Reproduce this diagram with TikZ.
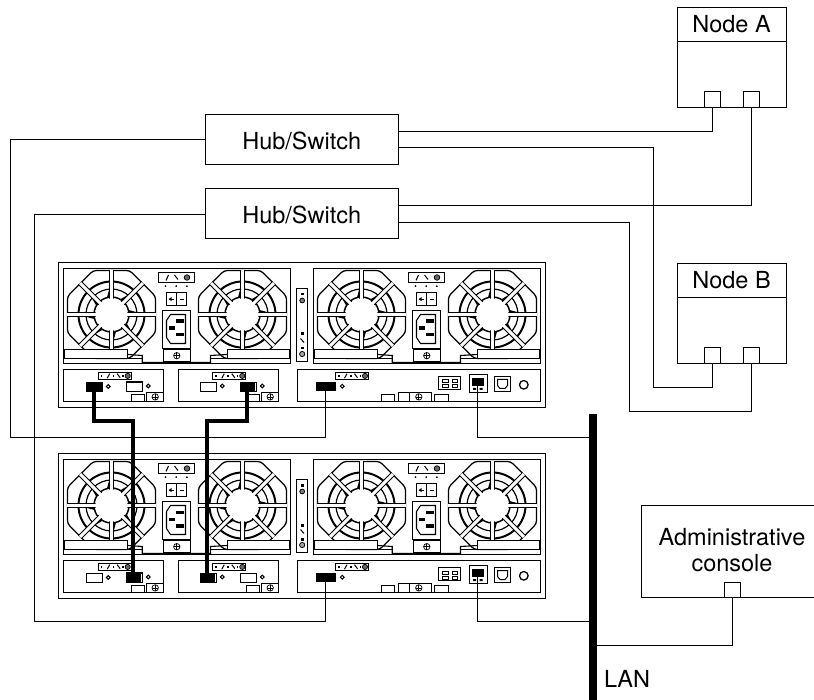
\documentclass[tikz,border=0pt]{standalone}
\usepackage{fontspec}
\setmainfont{TeX Gyre Heros}
\tikzset{
  x=1pt,y=-1pt,
  boxnode/.style={draw=black,line width=1.4pt,fill=white,rectangle,inner sep=0pt,outer sep=0pt},
  labelfont/.style={font=\fontsize{23.5}{26.5}\selectfont,text=black,inner sep=0pt,outer sep=0pt},
  blackport/.style={fill=black,draw=none,rectangle,inner sep=0pt,outer sep=0pt},
  cable/.style={line width=1.4pt,draw=black},
  heavycable/.style={line width=4pt,draw=black},
  detail/.style={line width=1.3pt,draw=black,fill=white},
  screwsym/.pic={
    \draw[line width=.7pt] (0,0) circle[radius=3.2];
    \draw[line width=.7pt] (-3.2,0)--(3.2,0) (0,-3.2)--(0,3.2);
  },
  tinyhole/.pic={\draw[line width=1pt] (0,0) circle[radius=1.9];},
  ctllabel/.pic={
    \draw[detail,line width=1.1pt] (0,0) rectangle (33,7.4);
    \fill (2.5,3) rectangle (4,4.5);
    \draw[line width=1pt] (9,6) -- (11.5,1.5);
    \fill (14.5,3) rectangle (16,4.5);
    \draw[line width=1pt] (19,1.5) -- (22,5.5);
    \fill (24,3) rectangle (25.5,4.5);
    \draw[line width=.7pt,fill=black!60] (29.5,3.7) circle[radius=2.6];
  },
  fanunit/.pic={
    \draw[line width=1.3pt,rounded corners=3pt]
      (22.5:47.6) -- (67.5:47.6) -- (112.5:47.6) -- (157.5:47.6) --
      (202.5:47.6) -- (247.5:47.6) -- (292.5:47.6) -- (337.5:47.6) -- cycle;
    \draw[line width=2pt] (0,0) circle[radius=33];
    \draw[line width=1.2pt] (0,0) circle[radius=25.5];
    \draw[line width=1.5pt] (0,0) circle[radius=17.5];
    \foreach \a in {0,45,...,315}{
      \fill ({\a+29}:17) -- ({\a+39}:24.5) -- ({\a+39}:17) -- cycle;
    }
    \foreach \a in {0,45,90,135}{
      \draw[double=white,double distance=3pt,line width=1.1pt] (\a:44.5) -- ({\a+180}:44.5);
    }
    \fill[white] (0,0) circle[radius=16];
  },
  psuunit/.pic={
    \draw[line width=1.3pt] (5,6) rectangle (232,101);
    \pic at (53,52) {fanunit};
    \pic at (184,52) {fanunit};
    \draw[line width=1.1pt] (69.3,92) -- (83.7,93) -- (83.7,100) -- (152,100) -- (152,93) -- (168.7,92);
    \draw[line width=1.1pt] (69.3,96.3) -- (83.7,96.3) (152,96.3) -- (168.7,96.3);
    \draw[detail,line width=1.1pt] (6,87) rectangle (69.3,96.3);
    \draw[detail,line width=1.1pt] (168.7,87) rectangle (231,96.3);
    \draw[detail] (104.7,87.3) rectangle (132,99);
    \pic at (118.3,93.2) {screwsym};
    \draw[detail] (104.3,48) rectangle (132,86.3);
    \draw[line width=1.1pt] (112,52) -- (127,52) -- (127,81) -- (112,81) -- (108,75) -- (108,58) -- cycle;
    \fill (117.7,57) rectangle (125.3,60.3);
    \fill (110.3,64) rectangle (116.3,67.3);
    \fill (117.7,70.7) rectangle (125.3,74);
    \draw[detail] (107.7,30.3) rectangle (127.7,43);
    \draw[line width=1.1pt] (117.7,30.3) -- (117.7,43);
    \draw[line width=1pt] (110.5,36.6) -- (115,36.6) (121,36.6) -- (125,36.6);
    \fill (110,36.6) -- (113,34.6) -- (113,38.6) -- cycle;
    \fill (107,23.7) circle[radius=1] (117.7,23.7) circle[radius=1] (128.3,23.7) circle[radius=1];
    \draw[detail] (99.7,10.3) rectangle (136,19.7);
    \draw[line width=1.1pt] (107.5,18) -- (110,12.5);
    \draw[line width=1pt] (116,12.5) -- (119.5,17);
    \draw[line width=.7pt,fill=black!60] (128.5,15) circle[radius=2.8];
  },
  chassisunit/.pic={
    \draw[line width=1.4pt,fill=white] (0,0) rectangle (487,145);
    \pic at (0,0) {psuunit};
    \pic at (250,0) {psuunit};
    \draw[line width=1.3pt] (238,26) rectangle (249,99);
    \fill (242.5,30.5) rectangle (245,33);
    \draw[line width=.8pt,fill=black!50] (243.7,38) circle[radius=2.4];
    \fill (242.5,70) rectangle (245,73);
    \draw[line width=1pt] (242,76) -- (245.5,80);
    \fill (242.5,84.5) rectangle (245,87);
    \draw[line width=.8pt,fill=black!35] (243.7,91.5) circle[radius=2.6];
    \draw[line width=1.3pt] (5,107) rectangle (105,139);
    \pic at (39.7,109.7) {ctllabel};
    \draw[detail] (27.7,120) rectangle (43.7,129);
    \pic at (49.7,124) {tinyhole};
    \draw[detail] (67.7,119.5) rectangle (83.7,129);
    \pic at (89.7,123.5) {tinyhole};
    \draw[detail] (73,132) rectangle (85.7,139);
    \draw[detail] (88.3,129.7) rectangle (105,139);
    \pic at (96.7,134.4) {screwsym};
    \draw[line width=1.3pt] (120,107) rectangle (220,139);
    \pic at (154.3,109.7) {ctllabel};
    \draw[detail] (141.7,120) rectangle (157.7,129);
    \pic at (163.7,123.5) {tinyhole};
    \draw[detail] (182,120) rectangle (198,129);
    \pic at (203.7,123.5) {tinyhole};
    \draw[detail] (188,132) rectangle (200.7,139);
    \draw[detail] (203.3,129.7) rectangle (220,139);
    \pic at (211.7,134.4) {screwsym};
    \draw[line width=1.3pt] (239,107) rectangle (482,139);
    \pic at (277,109.7) {ctllabel};
    \pic at (283.7,123.7) {tinyhole};
    \draw[detail] (322.7,132) rectangle (336,139);
    \draw[detail] (340.3,129.7) rectangle (372.7,139);
    \draw[line width=1.3pt] (351.3,129.7) -- (351.3,139);
    \pic at (360.3,134.4) {screwsym};
    \draw[detail] (376.3,132) rectangle (389.7,139);
    \draw[detail] (379.7,113.7) rectangle (402,127.3);
    \draw[line width=1pt] (384,117.5) rectangle (389.5,120.5) (393.5,117.5) rectangle (398.5,120.5)
                           (384,122.5) rectangle (389.5,125.5) (393.5,122.5) rectangle (398.5,125.5);
    \draw[detail] (410.7,112.3) rectangle (428.7,129.7);
    \fill (414.5,125.5) rectangle (417.5,127.5) (421,125.5) rectangle (424,127.5);
    \node[blackport,minimum width=12pt,minimum height=7.7pt] (-rj) at (419,119.2) {};
    \draw[detail] (436,113.7) rectangle (452,129);
    \draw[line width=1pt] (439,117) -- (449,117) -- (449,123) -- (446.5,126) -- (441.5,126) -- (439,123) -- cycle;
    \draw[line width=1.3pt] (465.3,122.3) circle[radius=4.3];
  }
}
\begin{document}
\begin{tikzpicture}
\useasboundingbox (0,0) rectangle (814,700);
\fill[white] (0,0) rectangle (814,700);

\pic (ca) at (58.5,262.5) {chassisunit};
\pic (cb) at (58.5,453.5) {chassisunit};

\node[boxnode,minimum width=193pt,minimum height=50pt] (hubone) at (302,139.5) {};
\node[boxnode,minimum width=193pt,minimum height=50pt] (hubtwo) at (302,213.5) {};
\node[labelfont] (hubonetext) at (301.75,140.5) {Hub/Switch};
\node[labelfont] (hubtwotext) at (301.75,214.5) {Hub/Switch};

\node[boxnode,minimum width=109pt,minimum height=34pt] (atitle) at (732,24.5) {};
\node[labelfont] (atext) at (731.5,24.5) {Node A};
\node[boxnode,minimum width=109pt,minimum height=66pt] (abody) at (732,74.5) {};
\node[boxnode,minimum width=16pt,minimum height=16pt] (aone) at (712.5,99.5) {};
\node[boxnode,minimum width=16pt,minimum height=16pt] (atwo) at (751.5,99.5) {};

\node[boxnode,minimum width=109pt,minimum height=34pt] (btitle) at (732,280.5) {};
\node[labelfont] (btext) at (731.5,280.5) {Node B};
\node[boxnode,minimum width=109pt,minimum height=66pt] (bbody) at (732,330.5) {};
\node[boxnode,minimum width=16pt,minimum height=16pt] (bone) at (712.5,355.5) {};
\node[boxnode,minimum width=16pt,minimum height=16pt] (btwo) at (751.5,355.5) {};

\node[boxnode,minimum width=176pt,minimum height=92pt] (admin) at (729.5,551.5) {};
\node[labelfont,align=center] (admintext) at (732,550) {Administrative\\console};
\node[boxnode,minimum width=16pt,minimum height=15pt] (adminport) at (732.5,590) {};

\node[blackport,minimum width=8pt,minimum height=286pt] (lan) at (593,557) {};
\node[labelfont,anchor=base west] (lantext) at (604,687) {LAN};

\node[blackport,minimum width=16pt,minimum height=9pt] (pa) at (94,386.5) {};
\node[blackport,minimum width=15pt,minimum height=9pt] (pb) at (247,386.5) {};
\node[blackport,minimum width=20pt,minimum height=9pt] (pc) at (325.5,386.5) {};
\node[blackport,minimum width=15pt,minimum height=9pt] (qa) at (133,577.5) {};
\node[blackport,minimum width=15pt,minimum height=9pt] (qb) at (207,577.5) {};
\node[blackport,minimum width=20pt,minimum height=9pt] (qc) at (325.5,577.5) {};

\coordinate (leftone) at (10.5,437.5);
\coordinate (lefttwo) at (34.5,621.5);
\coordinate (bendone) at (653.5,387.5);
\coordinate (bendtwo) at (629.5,411.5);

\draw[cable] (hubone.west |- 0,139.5) -| (leftone) -| (pc.south);
\draw[cable] (hubtwo.west |- 0,214.5) -| (lefttwo) -| (qc.south);
\draw[cable] (hubone.east |- 0,131.5) -| (aone.south);
\draw[cable] (hubtwo.east |- 0,205.5) -| (atwo.south);
\draw[cable] (hubone.east |- 0,147.5) -| (bendone) -| (bone.south);
\draw[cable] (hubtwo.east |- 0,222.5) -| (bendtwo) -| (btwo.south);
\draw[cable] (ca-rj.south) -- (ca-rj.south |- 0,437.5) -- (lan.west |- 0,437.5);
\draw[cable] (cb-rj.south) -- (cb-rj.south |- 0,621.5) -- (lan.west |- 0,621.5);
\draw[cable] (adminport.south) -- (adminport.south |- 0,645.5) -- (lan.east |- 0,645.5);

\draw[heavycable] (pa.south) -- (pa.south |- 0,421) -| (qa.north);
\draw[heavycable] (pb.south) -- (pb.south |- 0,421) -| (qb.north);
\end{tikzpicture}
\end{document}
